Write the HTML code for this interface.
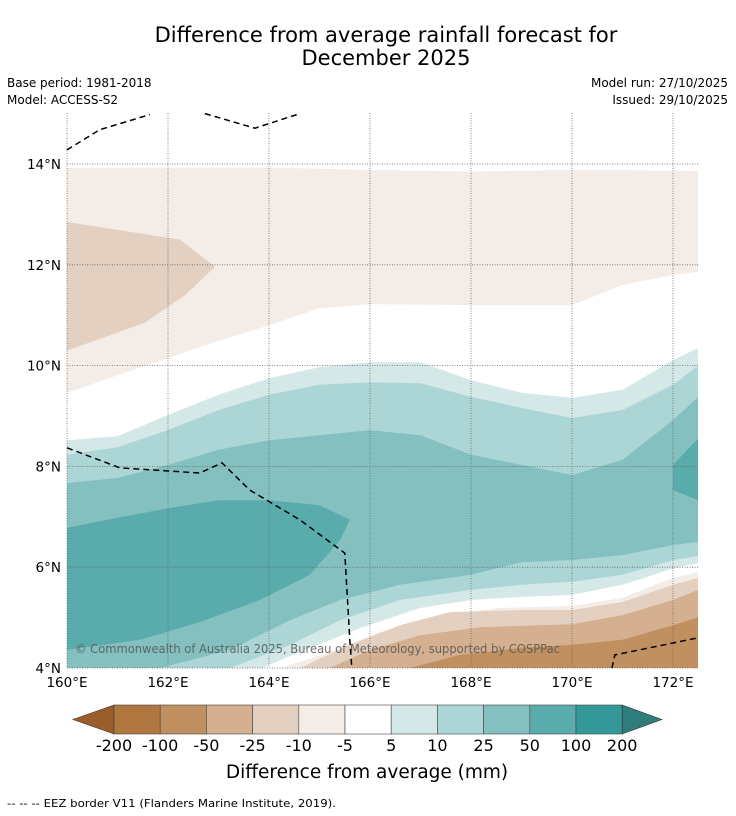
<!DOCTYPE html>
<html><head><meta charset="utf-8"><style>
body{margin:0;background:#fff;}
svg{display:block;font-family:"DejaVu Sans","Liberation Sans",sans-serif;}
</style></head><body>
<svg id="chart" width="736" height="816" viewBox="0 0 736 816">
<text x="386" y="42" font-size="21" text-anchor="middle">Difference from average rainfall forecast for</text>
<text x="386" y="65" font-size="21" text-anchor="middle">December 2025</text>
<text x="7" y="87" font-size="12">Base period: 1981-2018</text>
<text x="7" y="104" font-size="12">Model: ACCESS-S2</text>
<text x="728" y="87" font-size="12" text-anchor="end">Model run: 27/10/2025</text>
<text x="728" y="104" font-size="12" text-anchor="end">Issued: 29/10/2025</text>
<defs><clipPath id="mapclip"><rect x="67" y="113" width="631" height="555"/></clipPath></defs>
<g id="map" clip-path="url(#mapclip)"></g>
<g id="grid"></g>
<g id="eez"></g>
<text x="75" y="653" font-size="12.5" textLength="485" lengthAdjust="spacingAndGlyphs" fill="#555" fill-opacity="0.85">© Commonwealth of Australia 2025, Bureau of Meteorology, supported by COSPPac</text>
<g id="axes"></g>
<g id="cbar"></g>
<text x="367" y="778" font-size="18.5" text-anchor="middle">Difference from average (mm)</text>
<text x="7" y="807" font-size="11" textLength="329" lengthAdjust="spacingAndGlyphs">--  --  -- EEZ border V11 (Flanders Marine Institute, 2019).</text>
</svg>
<script>
const lonTicks=[160,162,164,166,168,170,172];
const latTicks=[4,6,8,10,12,14];
const cbarLevels=[-200,-100,-50,-25,-10,-5,5,10,25,50,100,200];
const cbarColors=['#b07840','#c09060','#d4b090','#e4d0c0','#f4ece6','#ffffff','#d4e8e8','#acd6d6','#84c0c0','#5aacac','#349898'];
// contour bands [lon,lat]
const negTopTop=[[160,13.92],[162,13.93],[164,13.93],[166,13.88],[168,13.85],[170,13.88],[172,13.87],[172.5,13.86]];
const negTopBottom=[[160,9.46],[161,9.81],[162,10.15],[163,10.49],[164,10.8],[165,11.14],[166,11.22],[168,11.2],[170,11.2],[171,11.6],[172,11.8],[172.5,11.86]];
const negBlob=[[160,12.85],[162.24,12.5],[162.93,11.96],[162.34,11.4],[161.54,10.85],[160,10.3]];
const pos5Top=[[160,8.52],[161,8.6],[162,9.02],[163,9.42],[164,9.75],[165,9.97],[166,10.07],[167,10.07],[168,9.71],[169,9.46],[170,9.36],[171,9.52],[172,10.11],[172.5,10.35]];
const pos5Bottom=[[160,4],[163.86,4],[164.81,4.4],[165.8,4.79],[166.99,5.19],[168,5.35],[169,5.41],[170,5.45],[171,5.65],[172,5.98],[172.5,6.08]];
const pos10Top=[[160,8.23],[161,8.38],[162,8.72],[163,9.12],[164,9.42],[165,9.62],[166,9.67],[167,9.65],[168,9.38],[169,9.16],[170,8.96],[171,9.12],[172,9.62],[172.5,10.0]];
const pos10Bottom=[[160,4],[163.23,4],[164.42,4.46],[165.41,4.95],[166.59,5.35],[168,5.55],[169,5.65],[170,5.71],[171,5.85],[172,6.14],[172.5,6.22]];
const pos25Top=[[160,7.67],[161,7.77],[162,8.03],[163,8.33],[164,8.52],[165,8.62],[166,8.72],[167,8.62],[168,8.23],[169,8.03],[170,7.83],[171,8.13],[172,8.92],[172.5,9.38]];
const pos25Bottom=[[160,4],[161.84,4],[163.23,4.36],[164.42,4.95],[165.41,5.35],[166.59,5.65],[168,5.85],[169,6.1],[170,6.14],[171,6.24],[172,6.44],[172.5,6.5]];
const pos50Left=[[160,6.78],[161,6.98],[162,7.17],[163,7.33],[164,7.33],[165,7.23],[165.6,6.94],[165.41,6.54],[164.81,5.85],[163.82,5.35],[162.63,4.91],[161.45,4.56],[160,4.36]];
const pos50Right=[[172.5,8.56],[172,8.03],[172,7.53],[172.5,7.33]];
const neg5Top=[[164.26,4],[165.21,4.32],[166.2,4.71],[167.39,5.05],[168.57,5.19],[170,5.23],[171,5.39],[172,5.79],[172.5,5.9]];
const neg10Top=[[164.61,4],[165.6,4.46],[166.59,4.85],[167.58,5.11],[169,5.15],[170,5.15],[171,5.31],[172,5.65],[172.5,5.79]];
const neg25Top=[[165.21,4],[166,4.36],[166.99,4.65],[168.18,4.81],[170,4.87],[171,5.05],[172,5.35],[172.5,5.55]];
const neg50Top=[[166.79,4],[167.78,4.26],[168.99,4.4],[170,4.46],[171,4.56],[172,4.85],[172.5,5.01]];
const eezTop=[[160,14.28],[160.65,14.68],[161.64,14.98]];
const eezTop2=[[162.73,15.0],[163.72,14.71],[164.61,15.0]];
const eezLeft=[[160,8.37],[161.05,7.97],[162.63,7.87],[163.07,8.07],[163.62,7.53],[164.61,6.94],[165.5,6.28],[165.6,4.56],[165.64,4]];
const eezRight=[[170.79,4],[170.85,4.26],[172.5,4.6]];

const NS='http://www.w3.org/2000/svg';
const X=lon=>67+(lon-160)*50.5;
const Y=lat=>668-(lat-4)*50.4;
const pts=a=>a.map(p=>X(p[0]).toFixed(1)+','+Y(p[1]).toFixed(1)).join(' ');
const map=document.getElementById('map');
function poly(arr,fill,name){
  const p=document.createElementNS(NS,'polygon');
  p.setAttribute('points',pts(arr));p.setAttribute('fill',fill);
  
  
  map.appendChild(p);
}
function band(top,bottom){return top.concat(bottom.slice().reverse());}
function toBottom(top){return top.concat([[172.5,4],[top[0][0],4]]);}
poly(band(negTopTop,negTopBottom),'#f4ece6','band-neg10-north');
poly(negBlob,'#e4d0c0','band-neg25-north');
poly(band(pos5Top,pos5Bottom),'#d4e8e8','band-pos5');
poly(band(pos10Top,pos10Bottom),'#acd6d6','band-pos10');
poly(band(pos25Top,pos25Bottom),'#84c0c0','band-pos25');
poly(pos50Left,'#5aacac','band-pos50-west');
poly(pos50Right,'#5aacac','band-pos50-east');
poly(toBottom(neg5Top),'#f4ece6','band-neg5-south');
poly(toBottom(neg10Top),'#e4d0c0','band-neg10-south');
poly(toBottom(neg25Top),'#d4b090','band-neg25-south');
poly(toBottom(neg50Top),'#c09060','band-neg50-south');

const grid=document.getElementById('grid');
lonTicks.forEach(l=>{const ln=document.createElementNS(NS,'line');
  ln.setAttribute('x1',X(l));ln.setAttribute('x2',X(l));ln.setAttribute('y1',113);ln.setAttribute('y2',668);
  ln.setAttribute('stroke','#666');ln.setAttribute('stroke-width','0.8');ln.setAttribute('stroke-dasharray','1,1.5');
  
  
  grid.appendChild(ln);});
latTicks.forEach(l=>{const ln=document.createElementNS(NS,'line');
  ln.setAttribute('x1',67);ln.setAttribute('x2',698);ln.setAttribute('y1',Y(l));ln.setAttribute('y2',Y(l));
  ln.setAttribute('stroke','#666');ln.setAttribute('stroke-width','0.8');ln.setAttribute('stroke-dasharray','1,1.5');
  
  
  grid.appendChild(ln);});
const eez=document.getElementById('eez');
[eezTop,eezTop2,eezLeft,eezRight].forEach(a=>{const pl=document.createElementNS(NS,'polyline');
  pl.setAttribute('points',pts(a));pl.setAttribute('fill','none');pl.setAttribute('stroke','#000');
  pl.setAttribute('stroke-width','1.5');pl.setAttribute('stroke-dasharray','6,4');
  
  
  eez.appendChild(pl);});
const axes=document.getElementById('axes');
lonTicks.forEach(l=>{const t=document.createElementNS(NS,'text');
  t.setAttribute('x',X(l));t.setAttribute('y',687);t.setAttribute('font-size','13.5');t.setAttribute('text-anchor','middle');
  t.textContent=l+'°E';
  
  
  axes.appendChild(t);});
latTicks.forEach(l=>{const t=document.createElementNS(NS,'text');
  t.setAttribute('x',61);t.setAttribute('y',Y(l)+5);t.setAttribute('font-size','13.5');t.setAttribute('text-anchor','end');
  t.textContent=l+'°N';
  
  
  axes.appendChild(t);});
const cb=document.getElementById('cbar');
const cx0=114,cw=46.2,cy=705,ch=29;
const la=document.createElementNS(NS,'polygon');
la.setAttribute('points',`${cx0},${cy} 73,${cy+ch/2} ${cx0},${cy+ch}`);la.setAttribute('fill','#9a5e2a');la.setAttribute('stroke','#333');la.setAttribute('stroke-width','0.6');


cb.appendChild(la);
cbarColors.forEach((c,i)=>{const r=document.createElementNS(NS,'rect');
  r.setAttribute('x',cx0+i*cw);r.setAttribute('y',cy);r.setAttribute('width',cw);r.setAttribute('height',ch);
  r.setAttribute('fill',c);r.setAttribute('stroke','#444');r.setAttribute('stroke-width','0.6');
  
  
  cb.appendChild(r);});
const xe=cx0+cbarColors.length*cw;
const ra=document.createElementNS(NS,'polygon');
ra.setAttribute('points',`${xe},${cy} 662,${cy+ch/2} ${xe},${cy+ch}`);ra.setAttribute('fill','#2e7c7c');ra.setAttribute('stroke','#333');ra.setAttribute('stroke-width','0.6');


cb.appendChild(ra);
cbarLevels.forEach((v,i)=>{const t=document.createElementNS(NS,'text');
  t.setAttribute('x',cx0+i*cw);t.setAttribute('y',751);t.setAttribute('font-size','16');t.setAttribute('text-anchor','middle');
  t.textContent=v;
  
  
  cb.appendChild(t);});
</script>
</body></html>
